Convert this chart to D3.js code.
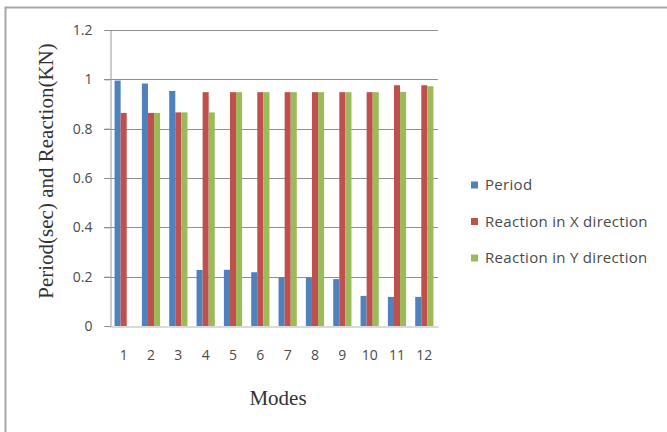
<!DOCTYPE html>
<html>
<head>
<meta charset="utf-8">
<script src="https://cdn.jsdelivr.net/npm/d3@7"></script>
<style>
  html, body { margin: 0; padding: 0; background: #fff; }
  svg { display: block; }
</style>
</head>
<body>
<svg id="chart" width="667" height="432"></svg>
<script>
// Modal analysis results per mode
const modes = ["1", "2", "3", "4", "5", "6", "7", "8", "9", "10", "11", "12"];
const seriesNames = ["Period", "Reaction in X direction", "Reaction in Y direction"];
const period    = [0.995, 0.983, 0.953, 0.227, 0.228, 0.218, 0.198, 0.197, 0.190, 0.122, 0.118, 0.118];
const reactionX = [0.864, 0.864, 0.866, 0.948, 0.948, 0.948, 0.948, 0.948, 0.948, 0.948, 0.976, 0.976];
const reactionY = [0.000, 0.864, 0.866, 0.866, 0.948, 0.948, 0.948, 0.948, 0.948, 0.948, 0.949, 0.972];
const yTicks = [0, 0.2, 0.4, 0.6, 0.8, 1, 1.2];
const colors = ["#4F81BD", "#C0504D", "#9BBB59"];

const values = [period, reactionX, reactionY];
const svg = d3.select("#chart");
const sansFont = "'Open Sans', Lato, sans-serif";

const plot = { left: 110, right: 438, top: 30, bottom: 326 };

// outer chart frame (left and top edges visible)
svg.append("path")
  .attr("d", "M5.5,432 L5.5,7.5 L667,7.5")
  .attr("fill", "none")
  .attr("stroke", "#a8a8a8")
  .attr("stroke-width", 2);

const y = d3.scaleLinear().domain([0, 1.2]).range([plot.bottom, plot.top]);
const x0 = d3.scaleBand().domain(modes).range([plot.left, plot.right])
  .paddingInner(1 / 3).paddingOuter(1 / 6);
const x1 = d3.scaleBand().domain(seriesNames).range([0, x0.bandwidth()]);

// horizontal gridlines
svg.append("g")
  .selectAll("line")
  .data(yTicks.filter(d => d > 0))
  .join("line")
  .attr("x1", plot.left - 6).attr("x2", plot.right)
  .attr("y1", d => Math.round(y(d)) + 0.5).attr("y2", d => Math.round(y(d)) + 0.5)
  .attr("stroke", "#8f8f8f").attr("stroke-width", 1);

// y axis
const yAxis = svg.append("g")
  .attr("transform", `translate(${plot.left + 0.5},0)`)
  .call(d3.axisLeft(y).tickValues(yTicks).tickFormat(d3.format("~g")).tickSize(6).tickPadding(12));
yAxis.select(".domain").attr("stroke", "#9a9a9a");
yAxis.selectAll(".tick line").attr("stroke", "#8f8f8f");
yAxis.selectAll(".tick text")
  .attr("fill", "#4a4a4a")
  .style("font-family", sansFont)
  .style("font-size", "14px");

// bars
const groups = svg.append("g")
  .selectAll("g")
  .data(modes)
  .join("g")
  .attr("transform", d => `translate(${x0(d)},0)`);

groups.selectAll("rect")
  .data((d, i) => seriesNames.map((s, k) => ({ s, k, v: values[k][i] })))
  .join("rect")
  .attr("x", d => x1(d.s))
  .attr("width", x1.bandwidth())
  .attr("y", d => y(d.v))
  .attr("height", d => y(0) - y(d.v))
  .attr("fill", d => colors[d.k]);

// x axis
const xAxis = svg.append("g")
  .attr("transform", `translate(0,${plot.bottom + 0.5})`)
  .call(d3.axisBottom(x0).tickSize(0).tickPadding(24));
xAxis.select(".domain").attr("stroke", "#b5b5b5");
xAxis.selectAll(".tick text")
  .attr("fill", "#4a4a4a")
  .style("font-family", sansFont)
  .style("font-size", "14px");

// axis titles
svg.append("text")
  .attr("x", 278).attr("y", 405)
  .attr("text-anchor", "middle")
  .attr("fill", "#333")
  .style("font-family", "'Liberation Serif', 'DejaVu Serif', serif")
  .style("font-size", "21px")
  .text("Modes");

svg.append("text")
  .attr("transform", "translate(53,171) rotate(-90)")
  .attr("text-anchor", "middle")
  .attr("fill", "#333")
  .style("font-family", "'Liberation Serif', 'DejaVu Serif', serif")
  .style("font-size", "21px")
  .text("Period(sec) and Reaction(KN)");

// legend
const legend = svg.append("g")
  .selectAll("g")
  .data(seriesNames)
  .join("g")
  .attr("transform", (d, i) => `translate(471,${185 + i * 36.5})`);
legend.append("rect")
  .attr("x", 0).attr("y", -3.5).attr("width", 7).attr("height", 7)
  .attr("fill", (d, i) => colors[i]);
legend.append("text")
  .attr("x", 14).attr("y", 0)
  .attr("dy", "0.35em")
  .attr("fill", "#4a4a4a")
  .style("font-family", sansFont)
  .style("font-size", "15px")
  .style("letter-spacing", "0.3px")
  .text(d => d);
</script>
</body>
</html>
